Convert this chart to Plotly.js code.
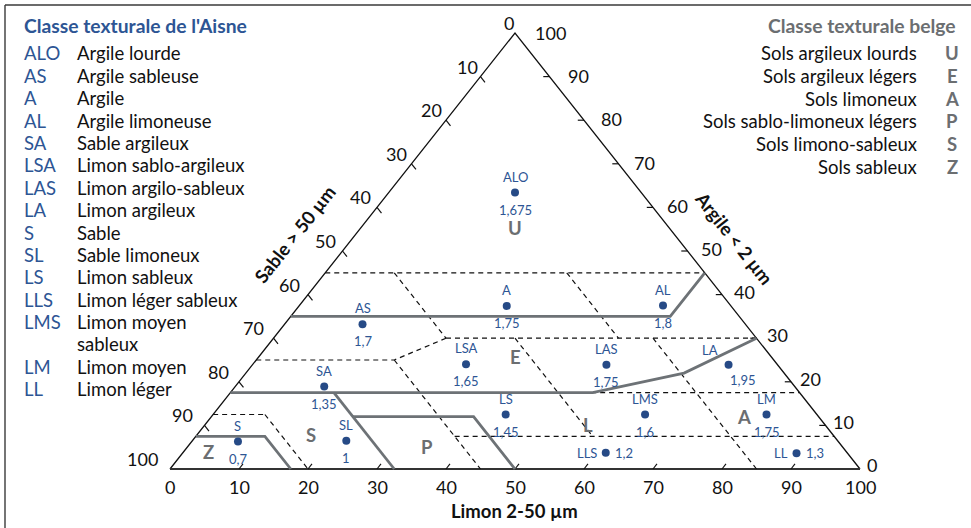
<!DOCTYPE html>
<html>
<head>
<meta charset="utf-8">
<script src="https://cdn.plot.ly/plotly-3.0.1.min.js"></script>
<style>
  html, body { margin: 0; padding: 0; background: #ffffff; }
  #chart { width: 971px; height: 528px; }
</style>
</head>
<body>
<div id="chart"></div>
<script>
// ---------------- DATA ----------------
// Legend: Aisne texture classes
const aisneCodes = ["ALO","AS","A","AL","SA","LSA","LAS","LA","S","SL","LS","LLS","LMS","LM","LL"];
const aisneNames = ["Argile lourde","Argile sableuse","Argile","Argile limoneuse","Sable argileux",
  "Limon sablo-argileux","Limon argilo-sableux","Limon argileux","Sable","Sable limoneux",
  "Limon sableux","Limon léger sableux","Limon moyen<br>sableux","Limon moyen","Limon léger"];
// Legend: Belgian texture classes
const belgeNames = ["Sols argileux lourds","Sols argileux légers","Sols limoneux",
  "Sols sablo-limoneux légers","Sols limono-sableux","Sols sableux"];
const belgeCodes = ["U","E","A","P","S","Z"];

// Sample points (class code, density value, silt %, clay %)
const pointCodes   = ["ALO","AS","A","AL","SA","LSA","LAS","LA","S","SL","LS","LLS","LMS","LM","LL"];
const pointValues  = ["1,675","1,7","1,75","1,8","1,35","1,65","1,75","1,95","0,7","1","1,45","1,2","1,6","1,75","1,3"];
const pointSilt    = [18.3, 11.3, 30.1, 52.7, 12.9, 30.9, 51.3, 69.0, 6.7, 22.3, 42.4, 61.3, 62.6, 80.2, 89.0];
const pointClay    = [63.4, 33.2, 37.4, 37.5, 18.9, 24.0, 23.9, 23.9, 6.3, 6.5, 12.5, 3.7, 12.5, 12.5, 3.6];

// Belgian class letters inside the triangle (silt %, clay %)
const regionLetters = ["U","E","A","L","P","S","Z"];
const regionSilt    = [22.4, 37.1, 77.2, 55.5, 34.65, 16.5, 3.6];
const regionClay    = [55.2, 25.8, 12.0, 10.2, 5.1, 7.8, 4.0];

// Aisne class boundaries (dashed), each polyline as silt[] / clay[]
const aisneBoundSilt = [[0,55],[10,25],[35,50],[25,70],[25,20],[0,20],[20,45],[27.5,82.5],[35,57.5],[55,85],[0,7.5],[7.5,20],[37.5,92.5]];
const aisneBoundClay = [[45,45],[45,30],[45,30],[30,30],[30,25],[25,25],[25,0],[17.5,17.5],[30,7.5],[30,0],[12.5,12.5],[12.5,0],[7.5,7.5]];

// Belgian class boundaries (solid grey)
const belgeBoundSilt = [[0,55,55],[0,52.5,63.5,70],[15,32.5],[20.5,38,50],[0,10,17.5]];
const belgeBoundClay = [[35,35,45],[17.5,17.5,22,30],[17.5,0],[12,12,0],[7.5,7.5,0]];

// Axis ticks
const ticks = [0,10,20,30,40,50,60,70,80,90,100];
const axisTitleSilt = "Limon 2-50 µm";
const axisTitleSand = "Sable > 50 µm";
const axisTitleClay = "Argile < 2 µm";
const legendTitleAisne = "Classe texturale de l'Aisne";
const legendTitleBelge = "Classe texturale belge";

// ---------------- HELPERS ----------------
const W = 971, H = 528;
const X0 = 170, SX = 6.9;   // px of silt=0 at base, px per unit
const Y0 = 469, SY = 4.36;  // px of clay=0, px per unit of clay
const toX = (silt, clay) => silt + clay / 2;
const px = p => p / W;            // paper x
const py = p => 1 - p / H;        // paper y

const FONT = "Lato, 'Open Sans', sans-serif";
const BLUE = "#2d5594";
const DOT = "#264a86";
const GREY = "#6b6e71";
const LINEGREY = "#6d7276";
const LEG = 18.5;

const traces = [];

// triangle outline
traces.push({
  type: "scatter", mode: "lines",
  x: [toX(0,0), toX(0,100), toX(100,0)], y: [0, 100, 0],
  line: { color: "#111", width: 1.3 }, hoverinfo: "skip", showlegend: false
});
traces.push({
  type: "scatter", mode: "lines",
  x: [toX(0,0), toX(100,0)], y: [0, 0],
  line: { color: "#333", width: 2 }, hoverinfo: "skip", showlegend: false
});

// ticks
(function () {
  const tx = [], ty = [];
  const inner = ticks.filter(t => t > 0 && t < 100);
  inner.forEach(s => { // sand ticks on left edge, pointing along constant sand
    const c = 100 - s, d = 1.3;
    tx.push(toX(0, c), toX(d, c - d), null); ty.push(c, c - d, null);
  });
  inner.forEach(c => { // clay ticks on right edge, horizontal
    const d = 0.9;
    tx.push(toX(100 - c, c), toX(100 - c - d, c), null); ty.push(c, c, null);
  });
  inner.forEach(t => { // silt ticks on base, along constant silt
    const d = 1.15;
    tx.push(toX(t, 0), toX(t, d), null); ty.push(0, d, null);
  });
  traces.push({ type: "scatter", mode: "lines", x: tx, y: ty,
    line: { color: "#111", width: 1.2 }, hoverinfo: "skip", showlegend: false });
})();

// dashed Aisne boundaries
aisneBoundSilt.forEach((s, i) => {
  const c = aisneBoundClay[i];
  traces.push({ type: "scatter", mode: "lines",
    x: s.map((v, k) => toX(v, c[k])), y: c,
    line: { color: "#111", width: 1.2, dash: "5px,4px" },
    hoverinfo: "skip", showlegend: false });
});

// grey Belgian boundaries
belgeBoundSilt.forEach((s, i) => {
  const c = belgeBoundClay[i];
  traces.push({ type: "scatter", mode: "lines",
    x: s.map((v, k) => toX(v, c[k])), y: c,
    line: { color: LINEGREY, width: 2.8 },
    hoverinfo: "skip", showlegend: false });
});

// points
traces.push({ type: "scatter", mode: "markers",
  x: pointSilt.map((s, i) => toX(s, pointClay[i])), y: pointClay,
  marker: { color: DOT, size: 8 }, text: pointCodes, hoverinfo: "text", showlegend: false });

// ---------------- ANNOTATIONS ----------------
const ann = [];
const txt = (o) => Object.assign({ showarrow: false, xref: "x", yref: "y",
  font: { family: FONT, size: 16, color: "#111" } }, o);

// point labels
pointCodes.forEach((code, i) => {
  const x = toX(pointSilt[i], pointClay[i]), y = pointClay[i];
  const f = { family: FONT, size: 13, color: BLUE };
  if (code === "LLS" || code === "LL") {
    ann.push(txt({ x, y, text: code, xanchor: "right", yanchor: "middle", xshift: -7, font: f }));
    ann.push(txt({ x, y, text: pointValues[i], xanchor: "left", yanchor: "middle", xshift: 7, font: f }));
  } else if (code === "LA") {
    ann.push(txt({ x, y, text: code, xanchor: "center", yanchor: "middle", xshift: -19, yshift: 15, font: f }));
    ann.push(txt({ x, y, text: pointValues[i], xanchor: "center", yanchor: "middle", xshift: 14, yshift: -15, font: f }));
  } else {
    ann.push(txt({ x, y, text: code, xanchor: "center", yanchor: "middle", yshift: 16, font: f }));
    ann.push(txt({ x, y, text: pointValues[i], xanchor: "center", yanchor: "middle", yshift: -17, font: f }));
  }
});

// region letters
regionLetters.forEach((l, i) => {
  ann.push(txt({ x: toX(regionSilt[i], regionClay[i]), y: regionClay[i], text: "<b>" + l + "</b>",
    xanchor: "center", yanchor: "middle", font: { family: FONT, size: 18.5, color: GREY } }));
});

// tick labels
const tf = { family: FONT, size: 18, color: "#111" };
ticks.forEach(s => { // sand, left edge
  const c = 100 - s;
  ann.push(txt({ x: toX(0, c), y: c, text: String(s), xanchor: "right", yanchor: "middle",
    xshift: 0.5 - 0.11 * s, yshift: 10, font: tf }));
});
ticks.forEach(c => { // clay, right edge
  ann.push(txt({ x: toX(100 - c, c), y: c, text: String(c), xanchor: "left", yanchor: "middle",
    xshift: 4.5 + 0.13 * c, yshift: 4 - 0.04 * c, font: tf }));
});
ticks.forEach(t => { // silt, base
  ann.push(txt({ x: toX(t, 0), y: 0, text: String(t), xanchor: "center", yanchor: "middle",
    yshift: -18, font: tf }));
});

// axis titles
const EDGE_ANGLE = Math.atan2(100 * SY, 50 * SX) * 180 / Math.PI;
const titleFont = { family: FONT, size: 18.5, color: "#111" };
ann.push(txt({ xref: "paper", yref: "paper", x: px(514), y: py(511), text: "<b>" + axisTitleSilt + "</b>",
  xanchor: "center", yanchor: "middle", font: titleFont }));
ann.push(txt({ xref: "paper", yref: "paper", x: px(295), y: py(234), text: "<b>" + axisTitleSand + "</b>",
  xanchor: "center", yanchor: "middle", textangle: -EDGE_ANGLE, font: titleFont }));
ann.push(txt({ xref: "paper", yref: "paper", x: px(734), y: py(238), text: "<b>" + axisTitleClay + "</b>",
  xanchor: "center", yanchor: "middle", textangle: EDGE_ANGLE, font: titleFont }));

// Left legend
ann.push(txt({ xref: "paper", yref: "paper", x: px(22), y: py(25), text: "<b>" + legendTitleAisne + "</b>",
  xanchor: "left", yanchor: "middle", font: { family: FONT, size: 19.3, color: BLUE } }));
let rowY = 53.3;
const ROW = 22.4;
aisneCodes.forEach((code, i) => {
  ann.push(txt({ xref: "paper", yref: "paper", x: px(22), y: py(rowY), text: code,
    xanchor: "left", yanchor: "middle", font: { family: FONT, size: LEG, color: BLUE } }));
  const lines = aisneNames[i].split("<br>");
  lines.forEach((ln, k) => {
    ann.push(txt({ xref: "paper", yref: "paper", x: px(75), y: py(rowY + ROW * k), text: ln,
      xanchor: "left", yanchor: "middle", font: { family: FONT, size: LEG, color: "#111" } }));
  });
  rowY += ROW * lines.length;
});

// Right legend
ann.push(txt({ xref: "paper", yref: "paper", x: px(958), y: py(25), text: "<b>" + legendTitleBelge + "</b>",
  xanchor: "right", yanchor: "middle", font: { family: FONT, size: 19.3, color: GREY } }));
belgeNames.forEach((name, i) => {
  const y = 53.3 + 22.65 * i;
  ann.push(txt({ xref: "paper", yref: "paper", x: px(919), y: py(y), text: name,
    xanchor: "right", yanchor: "middle", font: { family: FONT, size: LEG, color: "#111" } }));
  ann.push(txt({ xref: "paper", yref: "paper", x: px(952), y: py(y), text: "<b>" + belgeCodes[i] + "</b>",
    xanchor: "center", yanchor: "middle", font: { family: FONT, size: LEG, color: GREY } }));
});

const layout = {
  width: W, height: H,
  margin: { l: 0, r: 0, t: 0, b: 0 },
  paper_bgcolor: "#ffffff", plot_bgcolor: "#ffffff",
  xaxis: { range: [-X0 / SX, (W - X0) / SX], visible: false, fixedrange: true },
  yaxis: { range: [(Y0 - H) / SY, Y0 / SY], visible: false, fixedrange: true },
  showlegend: false,
  annotations: ann,
  shapes: [
    { type: "line", xref: "paper", yref: "paper", x0: px(5), x1: 1, y0: py(5), y1: py(5),
      line: { color: "#3a3a3a", width: 1.4 }, layer: "below" },
    { type: "line", xref: "paper", yref: "paper", x0: px(5), x1: px(5), y0: py(5), y1: 0,
      line: { color: "#3a3a3a", width: 1.4 }, layer: "below" }
  ]
};

Plotly.newPlot("chart", traces, layout, { displayModeBar: false, staticPlot: true });
</script>
</body>
</html>
